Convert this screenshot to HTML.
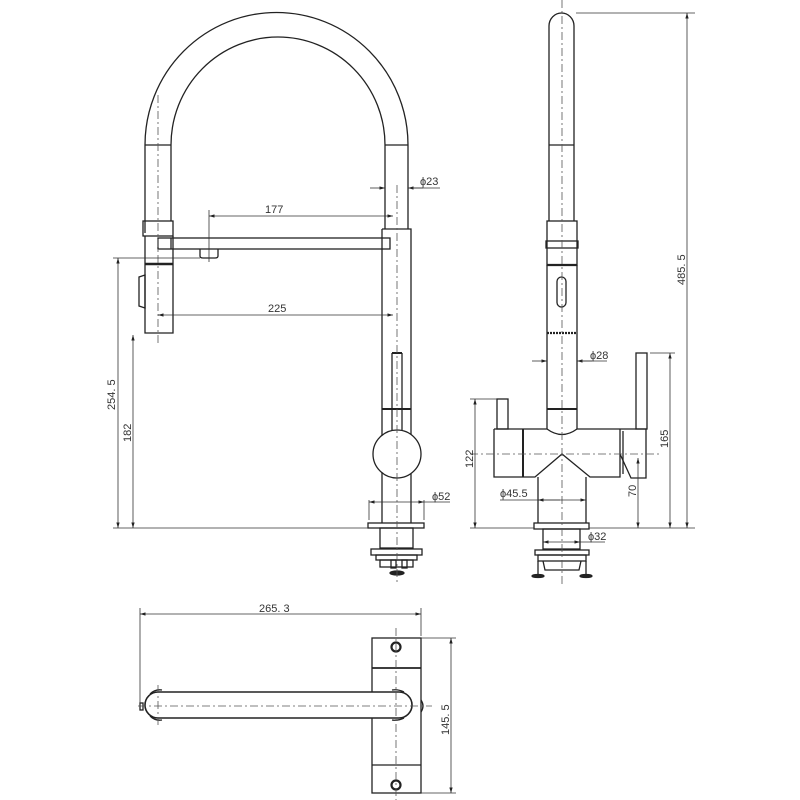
<!DOCTYPE html>
<html><head><meta charset="utf-8"><style>
html,body{margin:0;padding:0;background:#fff;}
svg{display:block}
text{font-family:"Liberation Sans",sans-serif;font-size:11px;fill:#333}
</style></head><body>
<svg width="800" height="800" viewBox="0 0 800 800" xmlns="http://www.w3.org/2000/svg">
<defs>
<marker id="a" viewBox="0 0 10 10" refX="10" refY="5" markerWidth="7" markerHeight="7" orient="auto-start-reverse"><path d="M0,2 L10,5 L0,8z" fill="#222"/></marker>
</defs>
<g fill="none" stroke="#222" stroke-width="1.3">
<!-- LEFT VIEW -->
<path d="M145,233 L145,145 A131,132 0 0 1 408,145 L408,229"/>
<path d="M171,221 L171,145 A107,108 0 0 1 385,145 L385,229"/>
<line x1="145" y1="145" x2="171" y2="145"/><line x1="385" y1="145" x2="408" y2="145"/>
<rect x="143" y="221" width="30" height="15"/>
<path d="M145,236 L145,333 L173,333 L173,236"/>
<line x1="145" y1="264" x2="173" y2="264" stroke-width="2.5"/>
<path d="M139,277 L145,275 L145,308 L139,306z"/>
<rect x="158" y="238" width="232" height="11"/>
<line x1="171" y1="238" x2="171" y2="249"/>
<path d="M200,249 L200,256 Q200,258 203,258 L215,258 Q218,258 218,256 L218,249"/>
<path d="M382,229 L411,229 L411,523"/><path d="M382,229 L382,523"/>
<line x1="392" y1="353" x2="392" y2="440"/><line x1="402" y1="353" x2="402" y2="440"/><line x1="392" y1="353" x2="402" y2="353" stroke-width="2"/>
<line x1="382" y1="409" x2="411" y2="409" stroke-width="2"/>
<circle cx="397" cy="454" r="24" fill="#fff"/>
<rect x="368" y="523" width="56" height="5"/>
<rect x="380" y="528" width="33" height="20"/>
<rect x="371" y="549" width="51" height="6"/>
<rect x="376" y="555" width="41" height="5"/>
<rect x="380" y="560" width="33" height="7"/>
<rect x="391" y="560" width="5" height="8"/><rect x="402" y="560" width="5" height="8"/>
<ellipse cx="397" cy="573" rx="7" ry="2" fill="#222"/>
<!-- RIGHT VIEW -->
<path d="M549,221 L549,26 A12.5,13 0 0 1 574,26 L574,221"/>
<line x1="549" y1="145" x2="574" y2="145"/>
<rect x="547" y="221" width="30" height="44"/>
<rect x="546" y="241" width="32" height="7"/>
<line x1="547" y1="265" x2="577" y2="265" stroke-width="2.2"/>
<rect x="557" y="277" width="9" height="30" rx="4.5"/>
<path d="M547,265 L547,429 M577,265 L577,429"/>
<line x1="547" y1="333" x2="577" y2="333" stroke-width="2.2" stroke-dasharray="2,1"/>
<line x1="547" y1="409" x2="577" y2="409" stroke-width="2"/>
<path d="M494,429 L547,429 Q562,440 577,429 L646,429 L646,478 L631,478 L620,454"/>
<path d="M494,429 L494,477 L535,477 L562,454 L590,477 L620,477 L620,429"/>
<line x1="523" y1="429" x2="523" y2="477" stroke-width="2"/>
<line x1="623" y1="431" x2="623" y2="474"/>
<rect x="497" y="399" width="11" height="30"/>
<rect x="636" y="353" width="11" height="76"/>
<path d="M538,477 L538,523 M586,477 L586,523"/>
<rect x="534" y="523" width="55" height="6"/>
<rect x="543" y="529" width="37" height="20"/>
<rect x="535" y="550" width="54" height="5"/>
<rect x="538" y="555" width="48" height="6"/>
<path d="M543,561 L545,570 L579,570 L581,561"/>
<line x1="538" y1="561" x2="538" y2="575"/><line x1="586" y1="561" x2="586" y2="575"/>
<ellipse cx="538" cy="576" rx="6" ry="1.5" fill="#222"/><ellipse cx="586" cy="576" rx="6" ry="1.5" fill="#222"/>
<!-- BOTTOM VIEW -->
<rect x="372" y="638" width="49" height="155"/>
<line x1="372" y1="668" x2="421" y2="668" stroke-width="1.8"/>
<line x1="372" y1="765" x2="421" y2="765"/>
<circle cx="396" cy="647" r="4.5" stroke-width="2.2"/><circle cx="396" cy="785" r="4.5" stroke-width="2.2"/>
<path d="M158,692 L399,692 A13,13 0 0 1 399,718 L158,718 A13,13 0 0 1 158,692z" fill="#fff" stroke-width="1.6"/>
<path d="M150,694 Q155,689 162,690 M150,716 Q155,721 162,720 M392,690 Q398,689 404,692 M392,720 Q398,721 404,718"/>
<path d="M421,700 Q425,706 421,712"/>
<rect x="140" y="703" width="3" height="7"/>
</g>
<!-- centerlines -->
<g stroke="#555" stroke-width="0.8" stroke-dasharray="8,3,2,3" fill="none">
<line x1="158" y1="95" x2="158" y2="345"/>
<line x1="397" y1="185" x2="397" y2="585"/>
<line x1="562" y1="0" x2="562" y2="585"/>
<line x1="470" y1="454" x2="660" y2="454"/>
<line x1="396" y1="628" x2="396" y2="800"/>
<line x1="138" y1="706" x2="432" y2="706"/>
<line x1="158" y1="685" x2="158" y2="728"/>
</g>
<!-- dimensions -->
<g stroke="#333" stroke-width="0.8" fill="none">
<line x1="209" y1="210" x2="209" y2="262"/>
<line x1="209" y1="216" x2="393" y2="216" marker-start="url(#a)" marker-end="url(#a)"/>
<line x1="158" y1="315" x2="393" y2="315" marker-start="url(#a)" marker-end="url(#a)"/>
<line x1="370" y1="188" x2="385" y2="188" marker-end="url(#a)"/><line x1="423" y1="188" x2="408" y2="188" marker-end="url(#a)"/><line x1="408" y1="188" x2="440" y2="188"/>
<line x1="113" y1="258" x2="200" y2="258"/>
<line x1="118" y1="258" x2="118" y2="528" marker-start="url(#a)" marker-end="url(#a)"/>
<line x1="133" y1="335" x2="133" y2="528" marker-start="url(#a)" marker-end="url(#a)"/>
<line x1="113" y1="528" x2="368" y2="528"/>
<line x1="369" y1="500" x2="369" y2="520"/><line x1="424" y1="500" x2="424" y2="520"/>
<line x1="369" y1="502" x2="424" y2="502" marker-start="url(#a)" marker-end="url(#a)"/><line x1="424" y1="502" x2="450" y2="502"/>
<line x1="576" y1="13" x2="695" y2="13"/>
<line x1="687" y1="13" x2="687" y2="528" marker-start="url(#a)" marker-end="url(#a)"/>
<line x1="589" y1="528" x2="695" y2="528"/>
<line x1="470" y1="528" x2="534" y2="528"/>
<line x1="650" y1="353" x2="675" y2="353"/>
<line x1="670" y1="353" x2="670" y2="528" marker-start="url(#a)" marker-end="url(#a)"/>
<line x1="638" y1="458" x2="638" y2="528" marker-start="url(#a)" marker-end="url(#a)"/>
<line x1="470" y1="399" x2="497" y2="399"/>
<line x1="475" y1="399" x2="475" y2="528" marker-start="url(#a)" marker-end="url(#a)"/>
<line x1="532" y1="361" x2="547" y2="361" marker-end="url(#a)"/><line x1="592" y1="361" x2="577" y2="361" marker-end="url(#a)"/><line x1="577" y1="361" x2="607" y2="361"/>
<line x1="500" y1="500" x2="586" y2="500" marker-end="url(#a)"/><line x1="560" y1="500" x2="538" y2="500" marker-end="url(#a)"/>
<line x1="543" y1="542" x2="580" y2="542" marker-start="url(#a)" marker-end="url(#a)"/><line x1="580" y1="542" x2="605" y2="542"/>
<line x1="140" y1="608" x2="140" y2="705"/><line x1="421" y1="608" x2="421" y2="636"/>
<line x1="140" y1="614" x2="421" y2="614" marker-start="url(#a)" marker-end="url(#a)"/>
<line x1="421" y1="638" x2="456" y2="638"/><line x1="421" y1="793" x2="456" y2="793"/>
<line x1="451" y1="638" x2="451" y2="793" marker-start="url(#a)" marker-end="url(#a)"/>
</g>
<text x="265" y="213">177</text>
<text x="268" y="312">225</text>
<text x="420" y="185">ϕ23</text>
<text x="432" y="500">ϕ52</text>
<text x="590" y="359">ϕ28</text>
<text x="500" y="497">ϕ45.5</text>
<text x="588" y="540">ϕ32</text>
<text x="259" y="612">265. 3</text>
<text transform="translate(115,410) rotate(-90)">254. 5</text>
<text transform="translate(131,442) rotate(-90)">182</text>
<text transform="translate(473,468) rotate(-90)">122</text>
<text transform="translate(668,448) rotate(-90)">165</text>
<text transform="translate(636,497) rotate(-90)">70</text>
<text transform="translate(685,285) rotate(-90)">485. 5</text>
<text transform="translate(449,735) rotate(-90)">145. 5</text>
</svg>
</body></html>
